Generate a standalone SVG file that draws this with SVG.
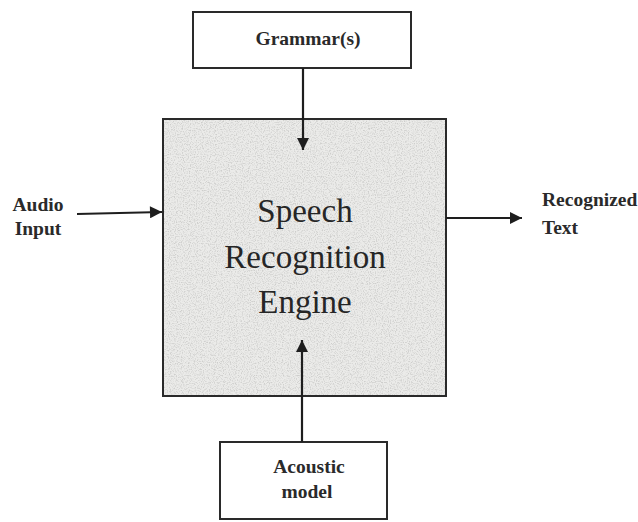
<svg xmlns="http://www.w3.org/2000/svg" width="638" height="522" viewBox="0 0 638 522">
<style>
.box{fill:#fff;stroke:#2a2a2a;stroke-width:2}
.lbl{font-family:"Liberation Serif",serif;font-weight:bold;font-size:19.5px;fill:#2a2a2a;text-anchor:middle}
.lft{text-anchor:start}
.big{font-family:"Liberation Serif",serif;font-size:33px;fill:#262626;text-anchor:middle}
.edge{stroke:#1e1e1e;stroke-width:2.2;fill:none}
</style>
<defs>
<marker id="ah" viewBox="0 0 10 10" refX="10" refY="5" markerWidth="14" markerHeight="12" markerUnits="userSpaceOnUse" orient="auto">
<path d="M0,0 L10,5 L0,10 z" fill="#1e1e1e"/>
</marker>
<filter id="speckle" x="0" y="0" width="100%" height="100%">
<feTurbulence type="fractalNoise" baseFrequency="0.85" numOctaves="2" seed="3" result="n"/>
<feColorMatrix in="n" type="matrix" values="0 0 0 0 0.5  0 0 0 0 0.5  0 0 0 0 0.49  0 0 0 -3 1.65" result="g"/>
<feComposite in="g" in2="SourceGraphic" operator="in"/>
</filter>
</defs>
<rect width="638" height="522" fill="#fff"/>
<g id="engine">
<rect x="163" y="119" width="283" height="277" fill="#ebebe9"/>
<rect x="163" y="119" width="283" height="277" fill="#000" filter="url(#speckle)" opacity="0.6"/>
<rect x="163" y="119" width="283" height="277" fill="none" stroke="#2a2a2a" stroke-width="2"/>
<text class="big" x="305" y="222">Speech</text>
<text class="big" x="305" y="268">Recognition</text>
<text class="big" x="305" y="313">Engine</text>
</g>
<g id="grammar">
<rect class="box" x="193" y="12" width="218" height="56"/>
<text class="lbl" x="308" y="45">Grammar(s)</text>
</g>
<g id="acoustic">
<rect class="box" x="220" y="442" width="167" height="77"/>
<text class="lbl" x="309" y="473">Acoustic</text>
<text class="lbl" x="307" y="498">model</text>
</g>
<g id="audio">
<text class="lbl" x="38" y="211">Audio</text>
<text class="lbl" x="38" y="235">Input</text>
</g>
<g id="recognized">
<text class="lbl lft" x="542" y="206">Recognized</text>
<text class="lbl lft" x="542" y="234">Text</text>
</g>
<g id="connectors">
<line class="edge" x1="303" y1="68" x2="303" y2="150" marker-end="url(#ah)"/>
<line class="edge" x1="77" y1="214" x2="162" y2="212" marker-end="url(#ah)"/>
<line class="edge" x1="446" y1="218" x2="522" y2="218" marker-end="url(#ah)"/>
<line class="edge" x1="302" y1="442" x2="302" y2="340" marker-end="url(#ah)"/>
</g>
</svg>
